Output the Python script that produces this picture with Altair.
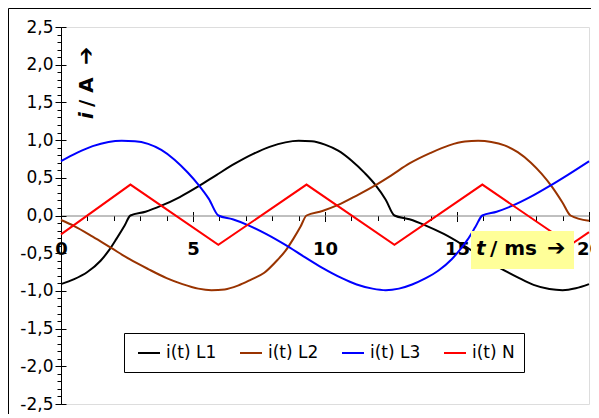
import altair as alt
import pandas as pd

# ---- data ----
series_names = ["i(t) L1", "i(t) L2", "i(t) L3", "i(t) N"]
series_colors = ["#000000", "#993300", "#0000FF", "#FF0000"]

t_L1 = [0, 0.5, 1.0, 1.5, 1.8, 2.1, 2.4, 2.63, 3.2, 3.8, 4.5, 5.2, 5.9, 6.6, 7.3, 7.9, 8.5, 9.0,
        9.5, 10.0, 10.5, 11.0, 11.5, 11.9, 12.3, 12.63, 13.2, 13.8, 14.5, 15.2, 15.9, 16.6, 17.3,
        17.9, 18.5, 19.0, 19.5, 20]
i_L1 = [-0.91, -0.845, -0.75, -0.60, -0.47, -0.31, -0.14, 0.0, 0.05, 0.13, 0.245, 0.385, 0.54, 0.69,
        0.82, 0.91, 0.97, 0.99, 0.985, 0.94, 0.86, 0.73, 0.565, 0.41, 0.21, 0.0, -0.05, -0.13, -0.245,
        -0.385, -0.54, -0.69, -0.82, -0.92, -0.975, -0.99, -0.965, -0.91]

t_L2 = [0, 0.5, 1.2, 1.9, 2.6, 3.3, 4.0, 4.6, 5.2, 5.7, 6.2, 6.7, 7.2, 7.7, 8.2, 8.5, 8.8, 9.07,
        9.3, 9.9, 10.5, 11.2, 11.9, 12.5, 13.2, 14.0, 14.7, 15.3, 15.8, 16.3, 16.8, 17.3, 17.8,
        18.2, 18.6, 19.0, 19.3, 20]
i_L2 = [-0.06, -0.14, -0.28, -0.43, -0.58, -0.71, -0.83, -0.91, -0.97, -0.99, -0.98, -0.93, -0.85,
        -0.76, -0.59, -0.47, -0.31, -0.15, 0.0, 0.06, 0.14, 0.265, 0.40, 0.53, 0.69, 0.83, 0.93,
        0.98, 0.99, 0.975, 0.93, 0.84, 0.70, 0.555, 0.38, 0.17, 0.0, -0.07]

t_L3 = [0, 0.6, 1.2, 1.8, 2.3, 2.8, 3.3, 3.8, 4.3, 4.8, 5.2, 5.6, 5.96, 6.5, 7.1, 7.8, 8.5, 9.2,
        9.9, 10.6, 11.2, 11.8, 12.3, 12.8, 13.3, 13.8, 14.3, 14.8, 15.1, 15.4, 15.7, 15.96, 16.5,
        17.1, 17.8, 18.5, 19.2, 20]
i_L3 = [0.72, 0.83, 0.92, 0.975, 0.99, 0.985, 0.95, 0.87, 0.74, 0.57, 0.41, 0.22, 0.0, -0.05, -0.13,
        -0.25, -0.39, -0.545, -0.695, -0.825, -0.915, -0.97, -0.99, -0.97, -0.915, -0.835, -0.73,
        -0.58, -0.46, -0.32, -0.15, 0.0, 0.05, 0.13, 0.25, 0.39, 0.54, 0.72]

t_N = [0, 2.63, 5.96, 9.3, 12.63, 15.96, 19.3, 20]
i_N = [-0.25, 0.41, -0.39, 0.41, -0.39, 0.41, -0.39, -0.22]

y_major = [-2.5, -2.0, -1.5, -1.0, -0.5, 0.0, 0.5, 1.0, 1.5, 2.0, 2.5]
y_minor = [-2.5, -2.4, -2.3, -2.2, -2.1, -2.0, -1.9, -1.8, -1.7, -1.6, -1.5, -1.4, -1.3, -1.2, -1.1,
           -1.0, -0.9, -0.8, -0.7, -0.6, -0.5, -0.4, -0.3, -0.2, -0.1, 0.0, 0.1, 0.2, 0.3, 0.4, 0.5,
           0.6, 0.7, 0.8, 0.9, 1.0, 1.1, 1.2, 1.3, 1.4, 1.5, 1.6, 1.7, 1.8, 1.9, 2.0, 2.1, 2.2, 2.3,
           2.4, 2.5]
x_major = [0, 5, 10, 15, 20]
x_minor = [0, 1, 2, 3, 4, 5, 6, 7, 8, 9, 10, 11, 12, 13, 14, 15, 16, 17, 18, 19, 20]

rows = []
for name, ts, vs in zip(series_names, [t_L1, t_L2, t_L3, t_N], [i_L1, i_L2, i_L3, i_N]):
    for t, v in zip(ts, vs):
        rows.append({"series": name, "t": t, "i": v})
df = pd.DataFrame(rows)
df_phases = df[df["series"] != "i(t) N"]
df_neutral = df[df["series"] == "i(t) N"]
one = pd.DataFrame({"k": [0]})

W, H = 528, 377
X0 = -188.5  # axis offset to put the x axis at i = 0

FONT = "DejaVu Sans"


def xs(axis):
    return alt.X("t:Q", scale=alt.Scale(domain=[0, 20], nice=False, zero=False), axis=axis)


def ys(axis):
    return alt.Y("i:Q", scale=alt.Scale(domain=[-2.5, 2.5], nice=False, zero=False), axis=axis)


label_expr = "(datum.value < 0 ? '-' : '') + replace(format(abs(datum.value), '.1f'), '.', ',')"

color_enc = alt.Color(
    "series:N", scale=alt.Scale(domain=series_names, range=series_colors),
    legend=alt.Legend(orient="none", legendX=76, legendY=314, direction="horizontal",
                      title=None, symbolType="stroke", symbolStrokeWidth=2,
                      symbolSize=484, labelFont=FONT, labelFontSize=17,
                      labelColor="black", labelOffset=5, columnPadding=19,
                      padding=0))

phases = alt.Chart(df_phases).mark_line(strokeWidth=2, interpolate="monotone").encode(
    x=xs(alt.Axis(values=x_major, orient="bottom", offset=X0, title=None, labelFlush=False,
                  labelFont=FONT, labelFontWeight="bold", labelFontSize=18, labelColor="black",
                  labelBaseline="alphabetic", labelPadding=33, tickSize=6, tickColor="black",
                  domainColor="#808080", grid=False, labelOverlap=False)),
    y=ys(alt.Axis(values=y_major, orient="left", title=None, labelExpr=label_expr,
                  labelFont=FONT, labelFontSize=17, labelColor="black", labelPadding=2,
                  tickSize=6, tickColor="black", domainColor="black", grid=False,
                  labelOverlap=False)),
    color=color_enc,
)

neutral = alt.Chart(df_neutral).mark_line(strokeWidth=2).encode(
    x=xs(None), y=ys(None), color=color_enc,
)

hidden = dict(opacity=0)
y_minor_ticks = alt.Chart(df).mark_point(**hidden).encode(
    x=xs(None),
    y=ys(alt.Axis(values=y_minor, orient="left", title=None, labels=False, domain=False,
                  tickSize=4, tickColor="black", grid=False)),
)
y_major_inner = alt.Chart(df).mark_point(**hidden).encode(
    x=xs(None),
    y=ys(alt.Axis(values=y_major, orient="right", offset=-W, title=None, labels=False,
                  domain=False, tickSize=5, tickColor="black", grid=False)),
)
x_minor_ticks = alt.Chart(df).mark_point(**hidden).encode(
    x=xs(alt.Axis(values=x_minor, orient="bottom", offset=X0, title=None, labels=False,
                  domain=False, tickSize=5, tickColor="black", grid=False)),
    y=ys(None),
)
x_major_upper = alt.Chart(df).mark_point(**hidden).encode(
    x=xs(alt.Axis(values=x_major, orient="top", offset=X0, title=None, labels=False,
                  domain=False, tickSize=4, tickColor="black", grid=False)),
    y=ys(None),
)

frame = alt.Chart(one).mark_rect(fill="transparent", stroke="black", strokeWidth=1).encode(
    x=alt.value(-52.5), x2=alt.value(700), y=alt.value(-18.5), y2=alt.value(600))

legend_box = alt.Chart(one).mark_rect(fill="white", stroke="black", strokeWidth=1).encode(
    x=alt.value(63.5), x2=alt.value(463.5), y=alt.value(306.5), y2=alt.value(345.5))

xtitle_box = alt.Chart(one).mark_rect(fill="#FFFF99").encode(
    x=alt.value(410), x2=alt.value(513), y=alt.value(204), y2=alt.value(242))

xt_t = alt.Chart(one).mark_text(text="t", font=FONT, fontSize=20, fontWeight="bold",
                                fontStyle="italic", align="left", baseline="alphabetic",
                                color="black").encode(x=alt.value(415), y=alt.value(228))
xt_ms = alt.Chart(one).mark_text(text="/ ms", font=FONT, fontSize=20, fontWeight="bold",
                                 align="left", baseline="alphabetic",
                                 color="black").encode(x=alt.value(429), y=alt.value(228))
xt_arrow = alt.Chart(one).mark_text(text="\u2794", font=FONT, fontSize=22, fontWeight="bold",
                                    align="left", baseline="alphabetic",
                                    color="black").encode(x=alt.value(486), y=alt.value(228))

yt_i = alt.Chart(one).mark_text(text="i", font=FONT, fontSize=20, fontWeight="bold",
                                fontStyle="italic", align="left", baseline="alphabetic",
                                angle=270, color="black").encode(x=alt.value(32), y=alt.value(92))
yt_a = alt.Chart(one).mark_text(text="/ A", font=FONT, fontSize=20, fontWeight="bold",
                                align="left", baseline="alphabetic", angle=270,
                                color="black").encode(x=alt.value(32), y=alt.value(80))
yt_arrow = alt.Chart(one).mark_text(text="\u2794", font=FONT, fontSize=22, fontWeight="bold",
                                    align="left", baseline="alphabetic", angle=270,
                                    color="black").encode(x=alt.value(32), y=alt.value(38))

chart = alt.layer(
    frame, legend_box, y_minor_ticks, y_major_inner, x_minor_ticks, x_major_upper,
    phases, neutral,
    xtitle_box, xt_t, xt_ms, xt_arrow, yt_i, yt_a, yt_arrow,
).resolve_scale(
    x="independent", y="independent", color="shared"
).properties(
    width=W, height=H,
    autosize=alt.AutoSizeParams(type="none"),
    padding={"left": 53, "top": 19, "right": 2, "bottom": 10},
).configure_view(strokeWidth=0).configure(background="white")

chart.save("out.html", embed_options={"renderer": "svg", "actions": False})
